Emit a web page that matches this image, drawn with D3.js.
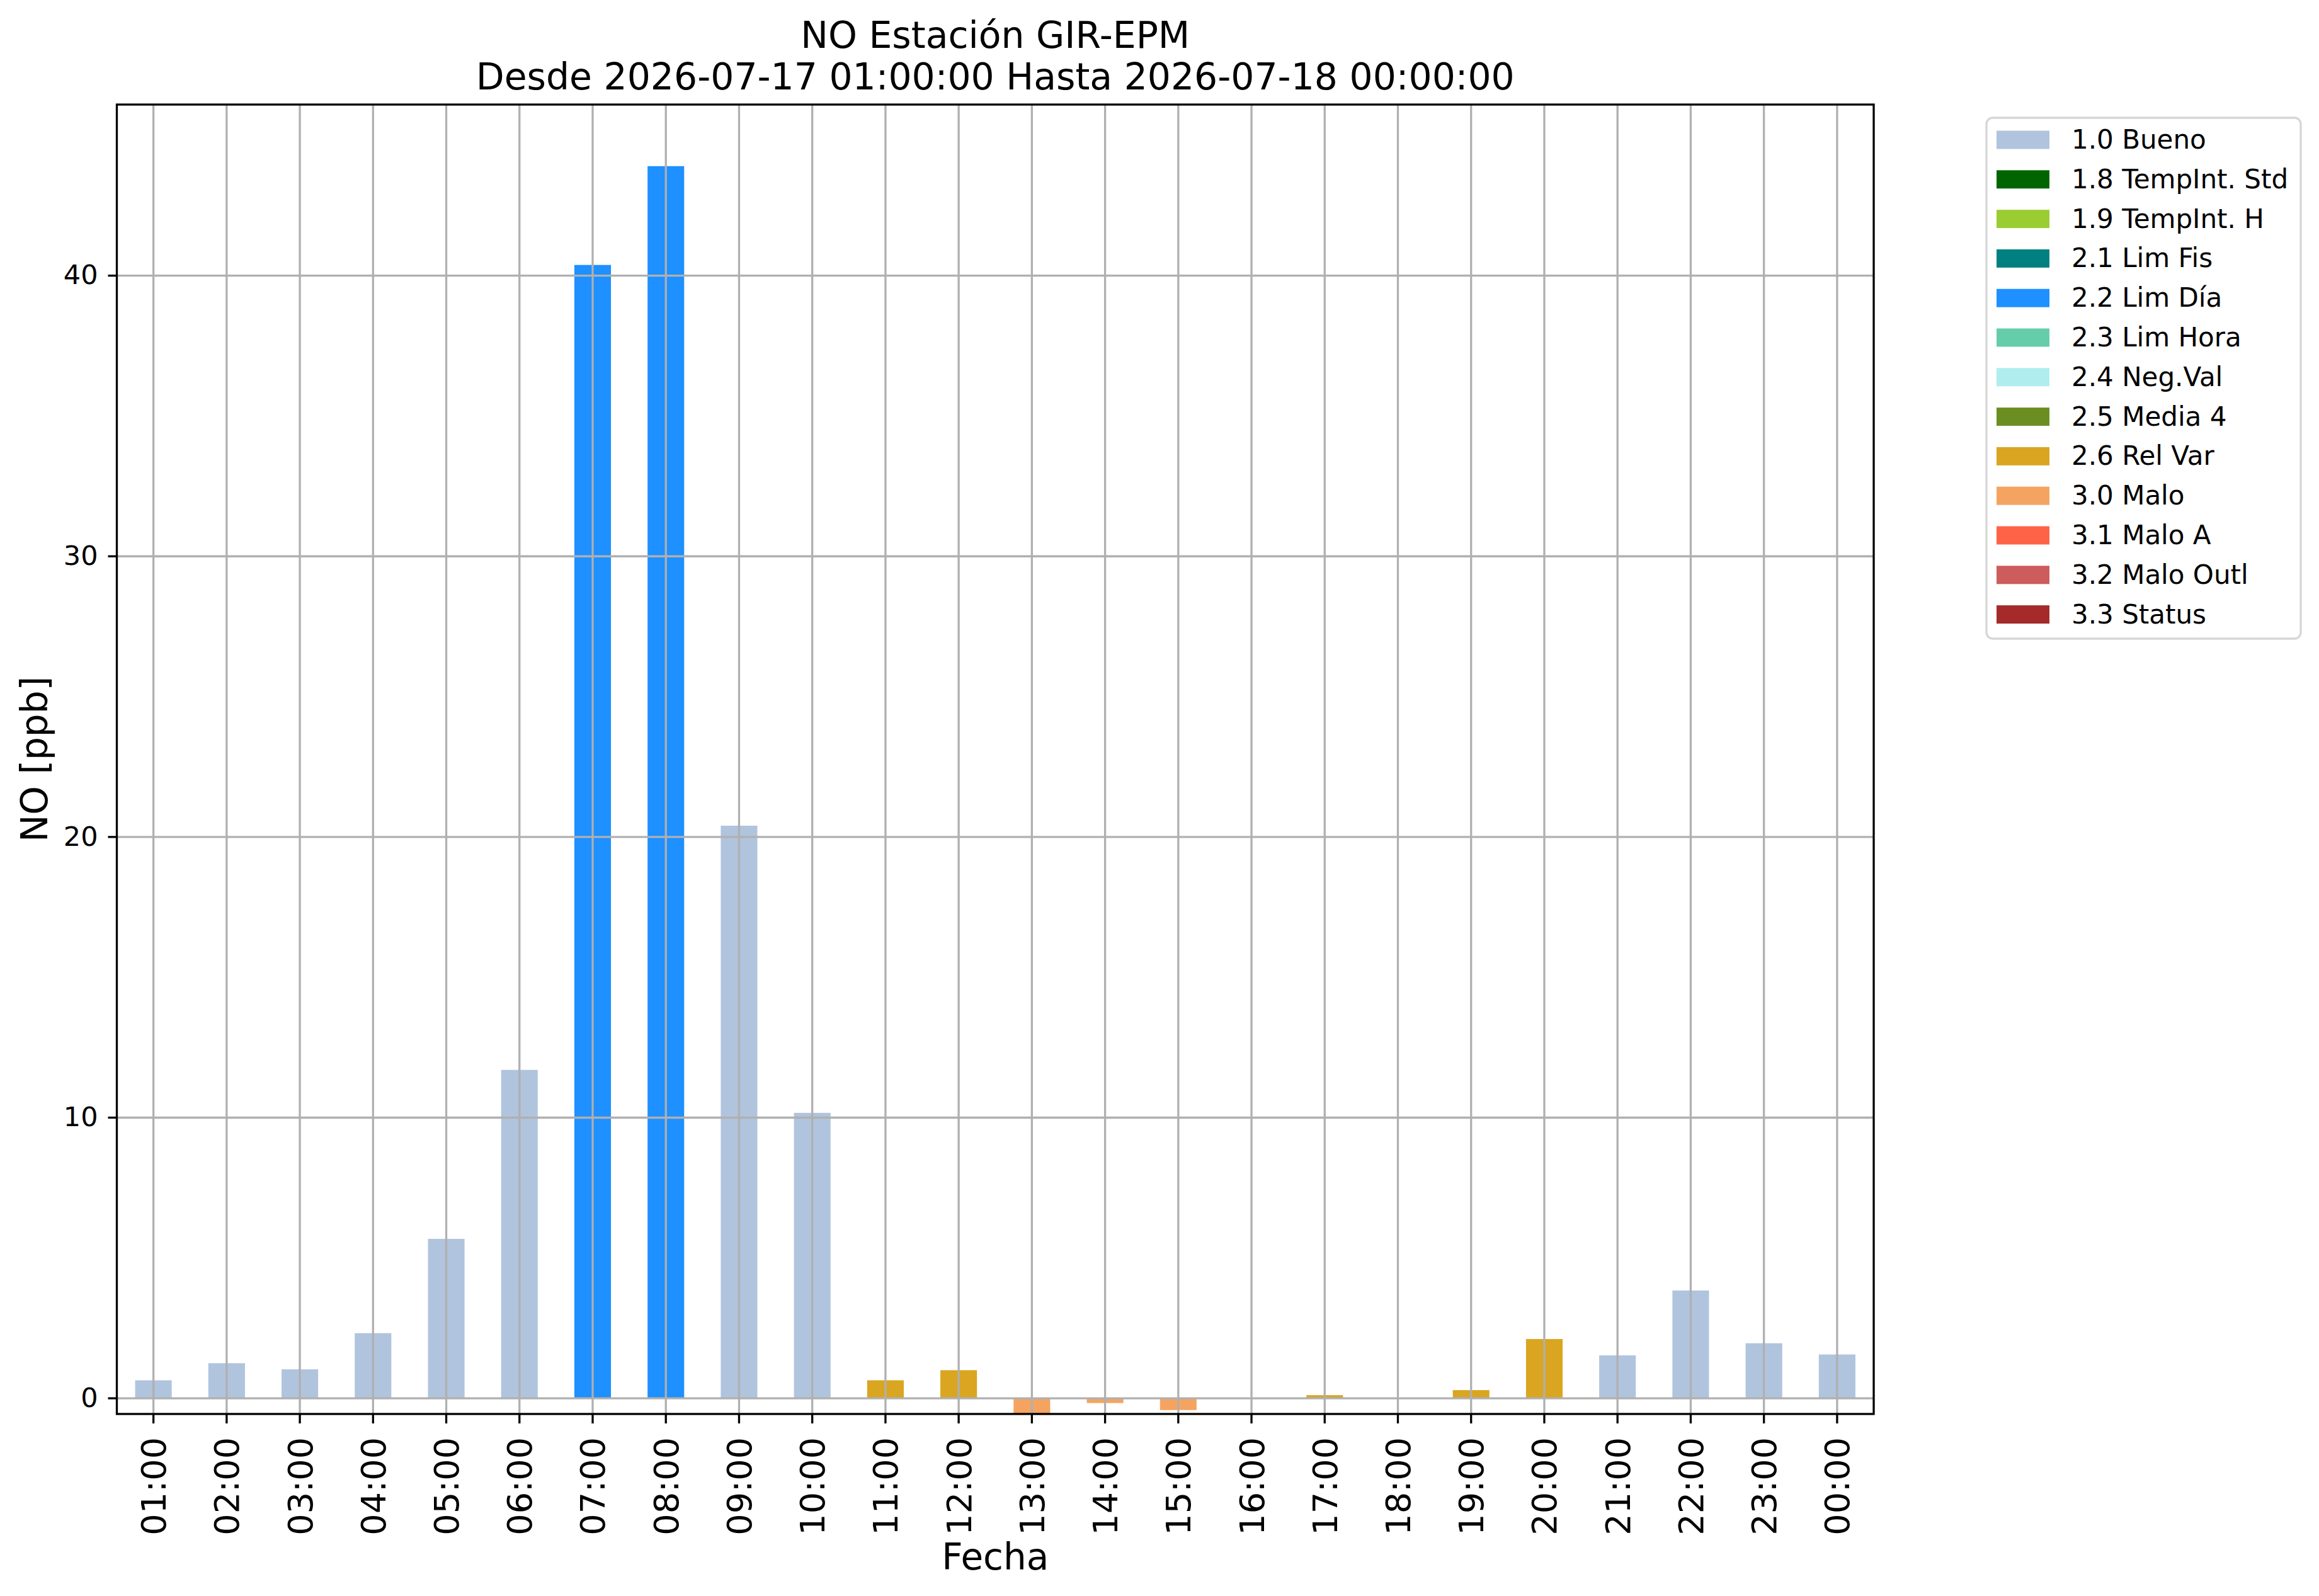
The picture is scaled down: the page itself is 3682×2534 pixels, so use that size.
<!DOCTYPE html>
<html>
<head>
<meta charset="utf-8">
<script src="https://cdn.jsdelivr.net/npm/d3@7"></script>
<style>
  body { margin: 0; background: #fff; }
  text { font-family: "DejaVu Sans", sans-serif; fill: #000; }
</style>
</head>
<body>
<div id="bar"></div>
<script>
 //hours on the x axis
 var hours = ["01:00", "02:00", "03:00", "04:00", "05:00", "06:00", "07:00", "08:00",
     "09:00", "10:00", "11:00", "12:00", "13:00", "14:00", "15:00", "16:00",
     "17:00", "18:00", "19:00", "20:00", "21:00", "22:00", "23:00", "00:00"];

 //NO values in ppb (null = no data)
 var noValues = [0.63, 1.24, 1.02, 2.31, 5.67, 11.69, 40.37, 43.89,
     20.39, 10.16, 0.63, 0.99, -0.57, -0.18, -0.43, null,
     0.10, null, 0.28, 2.10, 1.52, 3.83, 1.95, 1.55];

 //quality flag of each hour
 var flags = ["1.0 Bueno", "1.0 Bueno", "1.0 Bueno", "1.0 Bueno", "1.0 Bueno", "1.0 Bueno", "2.2 Lim Día", "2.2 Lim Día",
     "1.0 Bueno", "1.0 Bueno", "2.6 Rel Var", "2.6 Rel Var", "3.0 Malo", "3.0 Malo", "3.0 Malo", "1.0 Bueno",
     "2.6 Rel Var", "1.0 Bueno", "2.6 Rel Var", "2.6 Rel Var", "1.0 Bueno", "1.0 Bueno", "1.0 Bueno", "1.0 Bueno"];

 //legend entries and colours
 var flagLabels = ["1.0 Bueno", "1.8 TempInt. Std", "1.9 TempInt. H", "2.1 Lim Fis", "2.2 Lim Día",
     "2.3 Lim Hora", "2.4 Neg.Val", "2.5 Media 4", "2.6 Rel Var", "3.0 Malo", "3.1 Malo A",
     "3.2 Malo Outl", "3.3 Status"];
 var flagColors = ["lightsteelblue", "darkgreen", "yellowgreen", "teal", "dodgerblue",
     "mediumaquamarine", "paleturquoise", "olivedrab", "goldenrod", "sandybrown", "tomato",
     "indianred", "brown"];

 var yTicks = [0, 10, 20, 30, 40];

 var data = hours.map(function (h, i) {
     return { hour: h, value: noValues[i], flag: flags[i] };
 });

 //plot area inside the 3682x2534 figure
 var W = 3682, H = 2534;
 var margin = { left: 185.5, right: 707, top: 166, bottom: 289 };
 var width = W - margin.left - margin.right,
     height = H - margin.top - margin.bottom;
 var lw = 3.3; //line width for spines and grid

 var svg = d3.select("#bar")
     .append("svg")
     .attr("width", W)
     .attr("height", H);

 svg.append("rect").attr("width", W).attr("height", H).attr("fill", "#fff");

 var chartGroup = svg.append("g")
     .attr("transform", "translate(" + margin.left + "," + margin.top + ")");

 //scales
 var xScale = d3.scaleBand()
     .domain(hours)
     .range([0, width])
     .paddingInner(0.5)
     .paddingOuter(0.25);

 var yMin = d3.min(noValues), yMax = d3.max(noValues) * 1.05;
 var yScale = d3.scaleLinear()
     .domain([yMin, yMax])
     .range([height, 0]);

 var colorScale = d3.scaleOrdinal().domain(flagLabels).range(flagColors);

 //bars
 chartGroup.selectAll(".bar")
     .data(data.filter(function (d) { return d.value !== null; }))
     .enter()
     .append("rect")
     .attr("class", "bar")
     .attr("fill", function (d) { return colorScale(d.flag); })
     .attr("x", function (d) { return xScale(d.hour); })
     .attr("y", function (d) { return yScale(Math.max(0, d.value)); })
     .attr("width", xScale.bandwidth())
     .attr("height", function (d) { return Math.abs(yScale(d.value) - yScale(0)); });

 //grid drawn over the bars, like the original
 var xAxisGrid = d3.axisBottom(xScale).tickSize(-height).tickFormat("");
 var yAxisGrid = d3.axisLeft(yScale).tickValues(yTicks).tickSize(-width).tickFormat("");

 chartGroup.append("g")
     .attr("transform", "translate(0," + height + ")")
     .call(xAxisGrid)
     .call(function (g) { g.select(".domain").remove(); })
     .selectAll("line")
     .attr("stroke", "#b0b0b0")
     .attr("stroke-width", lw);

 chartGroup.append("g")
     .call(yAxisGrid)
     .call(function (g) { g.select(".domain").remove(); })
     .selectAll("line")
     .attr("stroke", "#b0b0b0")
     .attr("stroke-width", lw);

 //axes with ticks
 var xAxis = d3.axisBottom(xScale).tickSize(15).tickPadding(22);
 var yAxis = d3.axisLeft(yScale).tickValues(yTicks).tickSize(14).tickPadding(16);

 var gx = chartGroup.append("g")
     .attr("transform", "translate(0," + height + ")")
     .call(xAxis);
 gx.select(".domain").remove();
 gx.selectAll("line").attr("stroke", "#000").attr("stroke-width", lw);
 gx.selectAll("text")
     .attr("font-size", "54px")
     .attr("font-family", "DejaVu Sans")
     .attr("fill", "#000")
     .attr("y", 0)
     .attr("x", 0)
     .attr("dy", "0.36em")
     .attr("transform", "translate(0,37) rotate(-90)")
     .style("text-anchor", "end");

 var gy = chartGroup.append("g").call(yAxis);
 gy.select(".domain").remove();
 gy.selectAll("line").attr("stroke", "#000").attr("stroke-width", lw);
 gy.selectAll("text")
     .attr("font-size", "43px")
     .attr("font-family", "DejaVu Sans")
     .attr("fill", "#000");

 //spines
 chartGroup.append("rect")
     .attr("width", width)
     .attr("height", height)
     .attr("fill", "none")
     .attr("stroke", "#000")
     .attr("stroke-width", lw);

 //axis labels
 svg.append("text")
     .attr("x", margin.left + width / 2)
     .attr("y", 2492)
     .attr("text-anchor", "middle")
     .attr("font-size", "58px")
     .text("Fecha");

 svg.append("text")
     .attr("transform", "translate(75," + (margin.top + height / 2) + ") rotate(-90)")
     .attr("text-anchor", "middle")
     .attr("font-size", "58px")
     .text("NO [ppb]");

 //title
 svg.append("text")
     .attr("x", margin.left + width / 2)
     .attr("y", 76)
     .attr("text-anchor", "middle")
     .attr("font-size", "58.4px")
     .text("NO Estación GIR-EPM");
 svg.append("text")
     .attr("x", margin.left + width / 2)
     .attr("y", 142)
     .attr("text-anchor", "middle")
     .attr("font-size", "58.4px")
     .text("Desde 2026-07-17 01:00:00 Hasta 2026-07-18 00:00:00");

 //legend
 var legend = svg.append("g").attr("transform", "translate(3154,187)");
 legend.append("rect")
     .attr("width", 499)
     .attr("height", 827)
     .attr("rx", 10)
     .attr("fill", "#fff")
     .attr("stroke", "#d6d6d6")
     .attr("stroke-width", lw);

 var rows = legend.selectAll(".row")
     .data(flagLabels)
     .enter()
     .append("g")
     .attr("class", "row")
     .attr("transform", function (d, i) { return "translate(0," + (35 + i * 62.8) + ")"; });

 rows.append("rect")
     .attr("x", 16)
     .attr("y", -14.5)
     .attr("width", 84)
     .attr("height", 29)
     .attr("fill", function (d) { return colorScale(d); });

 rows.append("text")
     .attr("x", 135)
     .attr("y", 14)
     .attr("font-size", "42px")
     .text(function (d) { return d; });
</script>
</body>
</html>
